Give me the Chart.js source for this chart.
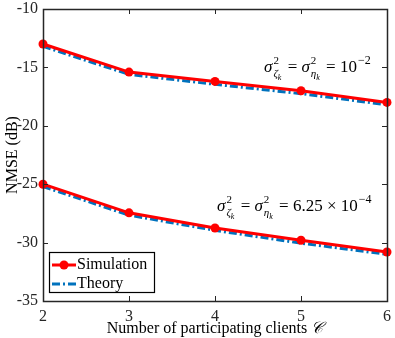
<!DOCTYPE html>
<html>
<head>
<meta charset="utf-8">
<script src="https://cdn.jsdelivr.net/npm/chart.js@4/dist/chart.umd.min.js"></script>
<style>
  html, body { margin: 0; padding: 0; background: #fff; }
  #wrap { width: 395px; height: 338px; }
</style>
</head>
<body>
<div id="wrap"><canvas id="grafico"></canvas></div>
<script>
// number of participating clients
const clients = [2, 3, 4, 5, 6];
// NMSE in dB
const simAlta = [-13.0, -15.4, -16.2, -17.0, -18.0];
const teoAlta = [-13.2, -15.6, -16.45, -17.25, -18.2];
const simBassa = [-25.0, -27.45, -28.75, -29.8, -30.8];
const teoBassa = [-25.2, -27.65, -28.95, -30.05, -31.0];
const yTicks = [-10, -15, -20, -25, -30, -35];

const ROSSO = '#ff0000';
const BLU = '#0072bd';
const SERIF = '"Liberation Serif", "DejaVu Serif", serif';

function punti(vals) {
  return clients.map((c, i) => ({ x: c, y: vals[i] }));
}

// draws sigma^2_{sub_k}
function sigma(ctx, x, y, sub) {
  ctx.font = 'italic 17px ' + SERIF;
  ctx.fillText('σ', x, y);
  x += ctx.measureText('σ').width + 1;
  ctx.font = '11px ' + SERIF;
  ctx.fillText('2', x, y - 8);
  const w2 = ctx.measureText('2').width;
  ctx.font = 'italic 11px ' + SERIF;
  ctx.fillText(sub, x, y + 5);
  const ws = ctx.measureText(sub).width;
  ctx.font = 'italic 8px ' + SERIF;
  ctx.fillText('k', x + ws, y + 8);
  const wk = ctx.measureText('k').width;
  return x + Math.max(w2, ws + wk) + 2;
}

function formula(ctx, x, y, resto) {
  ctx.fillStyle = '#000';
  ctx.textBaseline = 'alphabetic';
  ctx.textAlign = 'left';
  x = sigma(ctx, x, y, 'ζ');
  ctx.font = '17px ' + SERIF;
  ctx.fillText(' = ', x, y);
  x += ctx.measureText(' = ').width;
  x = sigma(ctx, x, y, 'η');
  ctx.font = '17px ' + SERIF;
  ctx.fillText(' = ' + resto, x, y);
  x += ctx.measureText(' = ' + resto).width;
  ctx.font = '12px ' + SERIF;
  ctx.fillText(resto === '10' ? '−2' : '−4', x + 1, y - 8);
}

const cornice = {
  id: 'cornice',
  afterDraw(chart) {
    const { ctx, chartArea: a, scales } = chart;
    ctx.save();
    ctx.strokeStyle = '#262626';
    ctx.lineWidth = 1;
    const tl = 5;
    ctx.beginPath();
    clients.forEach(c => {
      const px = Math.round(scales.x.getPixelForValue(c)) + 0.5;
      ctx.moveTo(px, a.bottom); ctx.lineTo(px, a.bottom - tl);
      ctx.moveTo(px, a.top); ctx.lineTo(px, a.top + tl);
    });
    yTicks.forEach(v => {
      const py = Math.round(scales.y.getPixelForValue(v)) + 0.5;
      ctx.moveTo(a.left, py); ctx.lineTo(a.left + tl, py);
      ctx.moveTo(a.right, py); ctx.lineTo(a.right - tl, py);
    });
    ctx.stroke();
    ctx.lineWidth = 1.5;
    ctx.strokeRect(a.left + 0.5, a.top + 0.5, a.right - a.left, a.bottom - a.top);

    formula(ctx, 264, 72, '10');
    formula(ctx, 217, 211, '6.25 × 10');

    // legend
    const lx = 49, ly = 252, lw = 105, lh = 40;
    ctx.fillStyle = '#fff';
    ctx.fillRect(lx, ly, lw, lh);
    ctx.strokeStyle = '#000';
    ctx.lineWidth = 1.2;
    ctx.strokeRect(lx + 0.5, ly + 0.5, lw, lh);
    ctx.lineWidth = 3;
    ctx.strokeStyle = ROSSO;
    ctx.beginPath(); ctx.moveTo(lx + 3, 265); ctx.lineTo(lx + 27, 265); ctx.stroke();
    ctx.fillStyle = ROSSO;
    ctx.beginPath(); ctx.arc(lx + 15, 265, 4.5, 0, Math.PI * 2); ctx.fill();
    ctx.strokeStyle = BLU;
    ctx.setLineDash([8, 3, 2, 3]);
    ctx.beginPath(); ctx.moveTo(lx + 3, 284); ctx.lineTo(lx + 27, 284); ctx.stroke();
    ctx.setLineDash([]);
    ctx.fillStyle = '#000';
    ctx.font = '16px ' + SERIF;
    ctx.textBaseline = 'middle';
    ctx.fillText('Simulation', lx + 28, 265);
    ctx.fillText('Theory', lx + 28, 284);

    // axis titles
    ctx.textBaseline = 'alphabetic';
    ctx.font = '16px ' + SERIF;
    const titolo = 'Number of participating clients ';
    const wt = ctx.measureText(titolo).width;
    ctx.font = 'italic 16px "DejaVu Serif", serif';
    const wc = ctx.measureText('𝒞').width;
    const sx = (a.left + a.right) / 2 - (wt + wc) / 2;
    ctx.textAlign = 'left';
    ctx.font = '16px ' + SERIF;
    ctx.fillText(titolo, sx, 333);
    ctx.font = 'italic 16px "DejaVu Serif", serif';
    ctx.fillText('𝒞', sx + wt, 333);

    ctx.save();
    ctx.translate(17, (a.top + a.bottom) / 2);
    ctx.rotate(-Math.PI / 2);
    ctx.textAlign = 'center';
    ctx.font = '16px ' + SERIF;
    ctx.fillText('NMSE (dB)', 0, 0);
    ctx.restore();
    ctx.restore();
  }
};

const linea = (dati, colore, tratteggio, marcatori, ordine) => ({
  data: punti(dati),
  borderColor: colore,
  backgroundColor: colore,
  borderWidth: 3,
  borderDash: tratteggio,
  pointRadius: marcatori ? 4.5 : 0,
  pointBorderWidth: 0,
  pointHoverRadius: 0,
  tension: 0,
  clip: false,
  order: ordine
});

new Chart(document.getElementById('grafico'), {
  type: 'line',
  data: {
    datasets: [
      linea(simAlta, ROSSO, [], true, 1),
      linea(simBassa, ROSSO, [], true, 1),
      linea(teoAlta, BLU, [8, 3, 2, 3], false, 2),
      linea(teoBassa, BLU, [8, 3, 2, 3], false, 2)
    ]
  },
  options: {
    responsive: true,
    maintainAspectRatio: false,
    animation: false,
    events: [],
    layout: { padding: { top: 0, right: 8, left: 0, bottom: 0 } },
    plugins: { legend: { display: false }, tooltip: { enabled: false } },
    scales: {
      x: {
        type: 'linear',
        min: 2, max: 6,
        afterFit(s) { s.height = 37; s.paddingRight = 0; s.paddingLeft = 0; },
        grid: { display: false, drawTicks: false },
        border: { display: false },
        ticks: {
          stepSize: 1, padding: 6, color: '#262626',
          font: { family: SERIF, size: 16 }
        }
      },
      y: {
        min: -35, max: -10,
        afterFit(s) { s.width = 43; s.paddingTop = 9; s.paddingBottom = 0; },
        afterBuildTicks(s) { s.ticks = yTicks.map(v => ({ value: v })); },
        grid: { display: false, drawTicks: false },
        border: { display: false },
        ticks: {
          padding: 5, color: '#262626',
          font: { family: SERIF, size: 16 }
        }
      }
    }
  },
  plugins: [cornice]
});
</script>
</body>
</html>
